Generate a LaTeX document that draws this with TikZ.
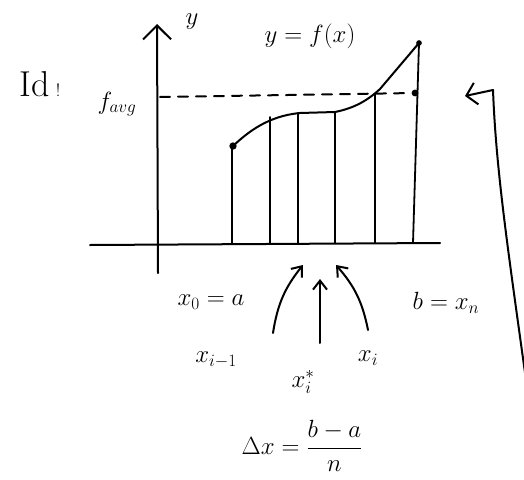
\documentclass[tikz,border=0pt]{standalone}
\usetikzlibrary{arrows.meta}
\begin{document}
\begin{tikzpicture}[x=1pt,y=-1pt,line width=2pt,line cap=round,line join=round,
  font=\fontsize{26}{30}\selectfont,
  barb/.style={-{Straight Barb[length=9pt,width=14pt]}},
  strip/.style={line width=1.8pt},
  dot/.style={circle,fill,inner sep=2.6pt}]
  \useasboundingbox (0,0) rectangle (524,479);

  % axes
  \coordinate (yfoot) at (158,273);
  \coordinate (ytop) at (157,24);
  \coordinate (xleft) at (90,245);
  \coordinate (xright) at (440,243);
  \draw[-{Straight Barb[length=14pt,width=28pt]}] (yfoot) -- (ytop);
  \draw (xleft) -- (xright);
  \node (ylab) at (192,22) {$y$};

  % curve
  \coordinate (fa) at (233,146);
  \coordinate (fb) at (419,43);
  \draw (fa) .. controls (248,132) and (268,116) .. (300,113)
    -- (335,112) .. controls (355,108) and (368,100) .. (380,89) -- (fb);
  \node[dot] (pa) at (fa) {};
  \node[dot,inner sep=2pt] (pb) at (fb) {};
  \node (curvelab) at (310,36) {$y=f(x)$};

  % strips
  \foreach \sx/\sy in {232/146, 270/117, 298/113, 335/112, 375/94} {
    \draw[strip] (\sx,\sy) -- (\sx,243);
  }
  \draw[strip] (fb) -- (413,243);

  % average value
  \coordinate (avgl) at (160,97);
  \node[dot,inner sep=2.4pt] (pavg) at (415,93) {};
  \draw[dashed,dash pattern=on 10pt off 8pt] (avgl) -- (pavg);
  \node[font=\fontsize{23}{26}\selectfont] (favg) at (117,104) {$f_{avg}$};
  \node[font=\fontsize{36}{40}\selectfont] (idea) at (40,84) {Id\,{\fontsize{18}{20}\selectfont!}};

  % labels on the x-axis
  \node (x0) at (211,302) {$x_0=a$};
  \node (xn) at (446,303) {$b=x_n$};
  \node (xim) at (216,360) {$x_{i-1}$};
  \node (xis) at (303,382) {$x_i^*$};
  \node (xi) at (368,358) {$x_i$};
  \node (dx) at (302,446) {$\Delta x=\displaystyle\frac{b-a}{n}$};

  % pointers
  \coordinate (tim) at (303,265);
  \coordinate (tis) at (320,279);
  \coordinate (ti) at (336,265);
  \draw[barb] (273,333) to[bend left=15] (tim);
  \draw[barb] (320,343) -- (tis);
  \draw[barb] (368,330) to[bend right=15] (ti);

  % return arrow on the right
  \coordinate (ret) at (465,96);
  \draw[-{Straight Barb[length=10pt,width=22pt]}] (526,380) .. controls (508,250) and (496,170) .. (493,90) -- (ret);
\end{tikzpicture}
\end{document}
